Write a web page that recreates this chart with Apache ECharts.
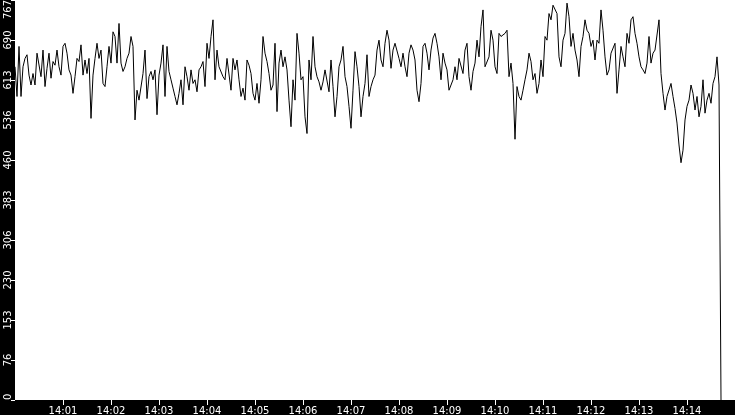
<!DOCTYPE html>
<html>
<head>
<meta charset="utf-8">
<script src="https://cdn.jsdelivr.net/npm/echarts@6/dist/echarts.min.js"></script>
<style>
  html, body { margin: 0; padding: 0; background: #000; }
  #chart { width: 735px; height: 415px; }
</style>
</head>
<body>
<div id="chart"></div>
<script>
// readings, one every 2.5 s from 14:00:00
const seg1 = [639,582,678,582,639,655,662,623,604,626,604,665,662,620,671,601,636,665,617,649,642,671,639,623,678,684,665,633,623,588,620,655,649,681,623,652,626,655,540,623,655,684,655,671,607]
const seg2 = [601,639,678,646,706,697,646,722,646,630,639,655,665,697,678,537,594,575,575,626,671,578,620,630,614,633,547,623,646,681,582,678,630,614,598,582,566,588,614,566,639,620,594,633,607]
const seg3 = [614,591,633,639,649,601,684,655,697,729,614,671,639,642,620,614,655,658,594,655,633,652,614,582,598,575,652,642,626,588,575,607,569,614,697,665,649,626,594,604,684,553,646,671,639]
const seg4 = [658,633,575,524,614,575,703,665,614,620,543,511,652,614,697,639,620,610,594,610,633,636,591,652,601,543,582,639,652,678,620,601,563,521,594,668,639,601,543,582,607,662,582,601,614]
const seg5 = [623,671,690,652,639,684,709,690,636,671,684,681,655,639,665,639,620,665,681,671,652,594,572,607,678,684,665,633,671,694,703,684,658,614,665,646,633,594,594,614,639,614,655,658,626]
const seg6 = [671,684,620,594,630,646,690,658,716,748,639,639,658,709,690,639,626,703,697,697,703,709,620,646,607,500,601,582,575,594,614,633,665,649,614,626,588,607,652,620,697,690,741,729,757]
const seg7 = [754,741,658,639,690,703,761,735,678,703,671,652,620,678,697,729,709,703,678,690,652,690,684,748,709,658,623,633,665,662,684,588,633,678,658,639,703,684,729,735,703,684,658,639,633]
const seg8 = [626,646,697,646,665,671,671,729,626,588,556,582,582,607,582,559,531,489,455,479,537,563,575,604,588,556,582,543,563,614,550,575,588,569,607,620,658,604,0]
const stepSeconds = 2.5

const xLabels = ["14:00","14:01","14:02","14:03","14:04","14:05","14:06","14:07","14:08","14:09","14:10","14:11","14:12","14:13","14:14","14:15"]
const yLabels = ["0","76","153","230","306","383","460","536","613","690","767"]

const values = [].concat(seg1, seg2, seg3, seg4, seg5, seg6, seg7, seg8)
const points = values.map((v, i) => [i * stepSeconds, v])

const chart = echarts.init(document.querySelector("#chart"))
chart.setOption({
  backgroundColor: "#000",
  animation: false,
  grid: {
    left: 15, right: 0, top: 0, bottom: 15,
    show: true, backgroundColor: "#fff", borderWidth: 0,
    containLabel: false, outerBoundsMode: "none"
  },
  xAxis: {
    type: "value",
    min: 0, max: 900, interval: 60,
    axisLine: { show: false },
    axisTick: { show: true, length: 5, lineStyle: { color: "#fff" } },
    splitLine: { show: false },
    axisLabel: {
      color: "#fff", fontFamily: "DejaVu Sans", fontSize: 10, margin: 6,
      showMinLabel: false, showMaxLabel: false,
      formatter: v => xLabels[Math.round(v / 60)]
    }
  },
  yAxis: {
    type: "value",
    min: 0, max: 767, interval: 76.7,
    axisLine: { show: false },
    axisTick: { show: true, length: 4, lineStyle: { color: "#fff" } },
    splitLine: { show: false },
    axisLabel: {
      color: "#fff", fontFamily: "DejaVu Sans", fontSize: 10, margin: 2,
      rotate: 90,
      alignMinLabel: "left", alignMaxLabel: "right",
      formatter: v => yLabels[Math.round(v / 76.7)]
    }
  },
  series: [{
    type: "line",
    data: points,
    showSymbol: false,
    lineStyle: { color: "#000", width: 1 }
  }]
})
</script>
</body>
</html>
